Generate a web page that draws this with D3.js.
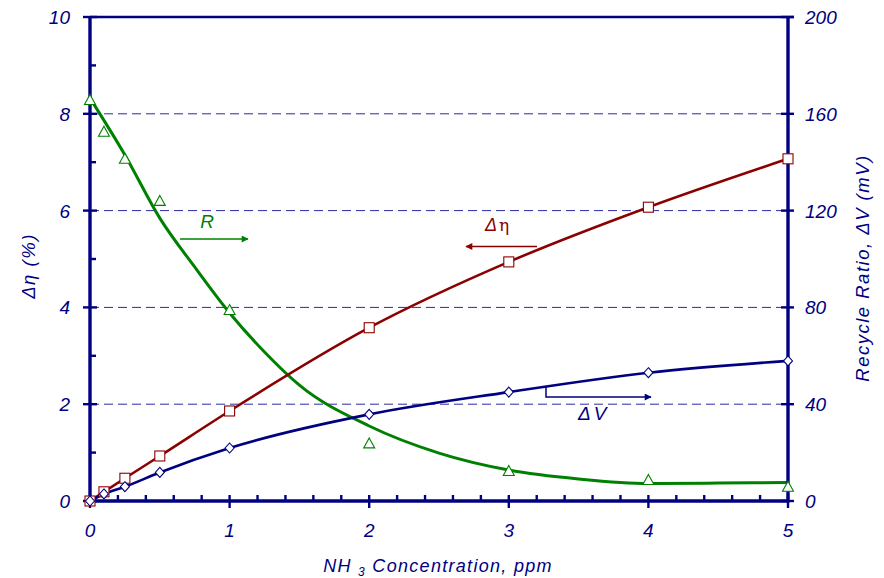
<!DOCTYPE html>
<html>
<head>
<meta charset="utf-8">
<script src="https://cdn.jsdelivr.net/npm/d3@7"></script>
<style>
  html, body { margin: 0; padding: 0; background: #fff; }
  svg { display: block; font-family: "Liberation Sans", Arial, sans-serif; }
</style>
</head>
<body>
<svg id="chart" width="884" height="578"></svg>
<script>
// NH3 concentration (ppm)
const conc = [0, 0.1, 0.25, 0.5, 1, 2, 3, 4, 5];
// Efficiency loss, Δη (%) — left axis
const deltaEta = [0, 0.19, 0.47, 0.93, 1.86, 3.58, 4.94, 6.07, 7.07];
// Voltage shift, ΔV (mV) — right axis
const deltaV = [0, 2.9, 5.9, 11.8, 21.9, 35.8, 45.0, 53.0, 57.9];
// Recycle ratio, R — right axis
const recycle = [165.7, 152.6, 141.4, 124.0, 78.9, 23.8, 12.4, 8.7, 5.9];
// Smoothed trend of the recycle ratio
const fitConc = [0, 0.25, 0.5, 0.75, 1, 1.25, 1.5, 2, 2.5, 3, 3.5, 4, 4.5, 5];
const fitRatio = [166.5, 143.0, 116.9, 96.7, 77.7, 61.6, 47.9, 31.0, 19.8, 12.8, 9.1, 7.2, 7.4, 7.6];

const leftTicks = [0, 2, 4, 6, 8, 10];
const leftMinor = [1, 3, 5, 7, 9];
const rightTicks = [0, 40, 80, 120, 160, 200];
const xTicks = [0, 1, 2, 3, 4, 5];
const gridLevels = [2, 4, 6, 8];

const NAVY = "#000080", RED = "#8b0000", GREEN = "#008000", GRID = "#2a2aa8";

const svg = d3.select("#chart");
const x = d3.scaleLinear().domain([0, 5]).range([90, 788]);
const yL = d3.scaleLinear().domain([0, 10]).range([501, 17]);
const yR = d3.scaleLinear().domain([0, 200]).range([501, 17]);
const [x0, x1] = x.range();
const [yb, yt] = yL.range();

// dashed horizontal grid
svg.append("g").selectAll("line").data(gridLevels).join("line")
  .attr("x1", x0).attr("x2", x1)
  .attr("y1", d => yL(d)).attr("y2", d => yL(d))
  .attr("stroke", GRID).attr("stroke-width", 1).attr("stroke-dasharray", "9,5");

// series lines
const lineL = (ys) => d3.line().x((d, i) => x(conc[i])).y((d, i) => yL(ys[i])).curve(d3.curveMonotoneX);
const lineR = (xs, ys) => d3.line().x((d, i) => x(xs[i])).y((d, i) => yR(ys[i])).curve(d3.curveMonotoneX);

svg.append("path").datum(fitConc).attr("d", lineR(fitConc, fitRatio))
  .attr("fill", "none").attr("stroke", GREEN).attr("stroke-width", 3);
svg.append("path").datum(conc).attr("d", lineL(deltaEta))
  .attr("fill", "none").attr("stroke", RED).attr("stroke-width", 2.6);
svg.append("path").datum(conc).attr("d", lineR(conc, deltaV))
  .attr("fill", "none").attr("stroke", NAVY).attr("stroke-width", 2.6);

// axes frame
const axisG = svg.append("g").attr("stroke", NAVY);
axisG.append("line").attr("x1", x0).attr("x2", x0).attr("y1", yb + 1.5).attr("y2", yt).attr("stroke-width", 3.4);
axisG.append("line").attr("x1", x1).attr("x2", x1).attr("y1", yb + 1.5).attr("y2", yt).attr("stroke-width", 3.4);
axisG.append("line").attr("x1", x0).attr("x2", x1).attr("y1", yb).attr("y2", yb).attr("stroke-width", 3.4);
axisG.append("line").attr("x1", x0).attr("x2", x1 + 6).attr("y1", yt).attr("y2", yt).attr("stroke-width", 2.4);

// left ticks
axisG.selectAll(".lmaj").data(leftTicks).join("line")
  .attr("x1", x0 - 7).attr("x2", x0 + 7).attr("y1", d => yL(d)).attr("y2", d => yL(d)).attr("stroke-width", 2.4);
axisG.selectAll(".lmin").data(leftMinor).join("line")
  .attr("x1", x0).attr("x2", x0 + 6).attr("y1", d => yL(d)).attr("y2", d => yL(d)).attr("stroke-width", 2.4);
// right ticks
axisG.selectAll(".rmaj").data(rightTicks).join("line")
  .attr("x1", x1 - 7).attr("x2", x1 + 6).attr("y1", d => yR(d)).attr("y2", d => yR(d)).attr("stroke-width", 2.4);
// bottom ticks
const xMinor = d3.range(0, 5.01, 0.2).filter(v => Math.abs(v - Math.round(v)) > 1e-6);
axisG.selectAll(".xmin").data(xMinor).join("line")
  .attr("x1", d => x(d)).attr("x2", d => x(d)).attr("y1", yb).attr("y2", yb - 6).attr("stroke-width", 2.4);
axisG.selectAll(".xmaj").data(xTicks).join("line")
  .attr("x1", d => x(d)).attr("x2", d => x(d)).attr("y1", yb - 6).attr("y2", yb + 7).attr("stroke-width", 2.4);

// tick labels
const tickSize = 19;
svg.append("g").selectAll("text").data(leftTicks).join("text")
  .attr("x", 70).attr("y", d => yL(d) + 7).attr("text-anchor", "end")
  .attr("font-size", tickSize).attr("font-style", "italic").attr("fill", NAVY).text(d => d);
svg.append("g").selectAll("text").data(rightTicks).join("text")
  .attr("x", 805).attr("y", d => yR(d) + 7).attr("text-anchor", "start")
  .attr("font-size", tickSize).attr("font-style", "italic").attr("fill", NAVY).text(d => d);
svg.append("g").selectAll("text").data(xTicks).join("text")
  .attr("x", d => x(d)).attr("y", 537).attr("text-anchor", "middle")
  .attr("font-size", tickSize).attr("font-style", "italic").attr("fill", NAVY).text(d => d);

// axis titles
const xt = svg.append("text").attr("x", 438).attr("y", 572).attr("text-anchor", "middle")
  .attr("font-size", 18).attr("letter-spacing", 1.3).attr("font-style", "italic").attr("fill", NAVY);
xt.append("tspan").text("NH ");
xt.append("tspan").attr("font-size", 12).attr("dy", 4).text("3");
xt.append("tspan").attr("dy", -4).text("  Concentration, ppm");

svg.append("text").attr("transform", "translate(35,266) rotate(-90)").attr("text-anchor", "middle")
  .attr("font-size", 18.5).attr("letter-spacing", 1.5).attr("font-style", "italic").attr("fill", NAVY).text("Δη (%)");
svg.append("text").attr("transform", "translate(869,268) rotate(-90)").attr("text-anchor", "middle")
  .attr("font-size", 18.5).attr("letter-spacing", 1.5).attr("font-style", "italic").attr("fill", NAVY).text("Recycle Ratio,  ΔV (mV)");

// markers
svg.append("g").selectAll("path").data(conc).join("path")
  .attr("transform", (d, i) => `translate(${x(conc[i])},${yR(recycle[i])})`)
  .attr("d", "M0,-5.5 L5.5,4.5 L-5.5,4.5 Z")
  .attr("fill", "#fff").attr("stroke", GREEN).attr("stroke-width", 1.1);
svg.append("g").selectAll("rect").data(conc).join("rect")
  .attr("x", (d, i) => x(conc[i]) - 5).attr("y", (d, i) => yL(deltaEta[i]) - 5)
  .attr("width", 10).attr("height", 10)
  .attr("fill", "#fff").attr("stroke", RED).attr("stroke-width", 1.1);
svg.append("g").selectAll("path").data(conc).join("path")
  .attr("transform", (d, i) => `translate(${x(conc[i])},${yR(deltaV[i])})`)
  .attr("d", "M0,-5 L4.5,0 L0,5 L-4.5,0 Z")
  .attr("fill", "#fff").attr("stroke", NAVY).attr("stroke-width", 1.1);

// arrowheads
const defs = svg.append("defs");
[["arrG", GREEN], ["arrR", RED], ["arrB", NAVY]].forEach(([id, c]) => {
  defs.append("marker").attr("id", id).attr("viewBox", "0 0 10 10")
    .attr("refX", 9).attr("refY", 5).attr("markerWidth", 8).attr("markerHeight", 7)
    .attr("markerUnits", "userSpaceOnUse").attr("orient", "auto")
    .append("path").attr("d", "M0,0 L10,5 L0,10 Z").attr("fill", c);
});

// series annotations
svg.append("text").attr("x", 207).attr("y", 228).attr("text-anchor", "middle")
  .attr("font-size", 19).attr("font-style", "italic").attr("fill", GREEN).text("R");
svg.append("line").attr("x1", 180).attr("x2", 248).attr("y1", 239).attr("y2", 239)
  .attr("stroke", GREEN).attr("stroke-width", 1.5).attr("marker-end", "url(#arrG)");

const et = svg.append("text").attr("x", 485).attr("y", 231).attr("font-size", 18).attr("fill", RED);
et.append("tspan").attr("font-style", "italic").text("Δ");
et.append("tspan").attr("dx", 2).attr("font-family", "DejaVu Serif, serif").attr("font-size", 17).text("η");
svg.append("line").attr("x1", 537).attr("x2", 466).attr("y1", 246.5).attr("y2", 246.5)
  .attr("stroke", RED).attr("stroke-width", 1.5).attr("marker-end", "url(#arrR)");

const vt = svg.append("text").attr("x", 578).attr("y", 420).attr("font-size", 19).attr("font-style", "italic").attr("fill", NAVY);
vt.append("tspan").text("Δ");
vt.append("tspan").attr("dx", 3).text("V");
svg.append("path").attr("d", "M546,387 L546,397 L651,397")
  .attr("fill", "none").attr("stroke", NAVY).attr("stroke-width", 1.5).attr("marker-end", "url(#arrB)");
</script>
</body>
</html>
